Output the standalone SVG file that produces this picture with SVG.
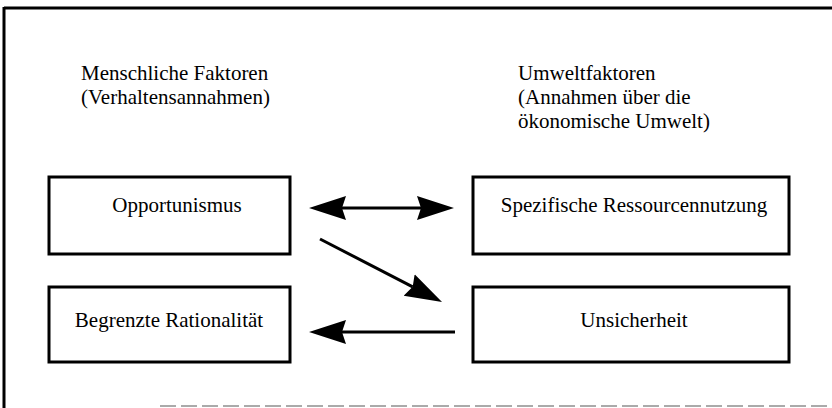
<svg xmlns="http://www.w3.org/2000/svg" width="832" height="408" viewBox="0 0 832 408">
<style>
text{font-family:"Liberation Serif","Times New Roman",serif;font-size:21px;fill:#000}
.box{fill:#fff;stroke:#000;stroke-width:3}
.c{text-anchor:middle}
.conn{stroke:#000;stroke-width:3;fill:none}
</style>
<defs>
<marker id="ah" viewBox="0 0 38 26" refX="4" refY="13" markerWidth="38" markerHeight="26" markerUnits="userSpaceOnUse" orient="auto-start-reverse">
<path d="M37,13 L0,1 L4,13 L0,25 Z" fill="#000"/>
</marker>
</defs>
<rect width="832" height="408" fill="#fff"/>
<g id="frame">
<line x1="4" y1="8" x2="832" y2="8" stroke="#000" stroke-width="3"/>
<line x1="4" y1="7" x2="4" y2="408" stroke="#000" stroke-width="3"/>
<line x1="160" y1="406" x2="832" y2="406" stroke="#aaa" stroke-width="2" stroke-dasharray="16 5"/>
</g>
<g id="heading-left">
<text x="81" y="80">Menschliche Faktoren</text>
<text x="81" y="104">(Verhaltensannahmen)</text>
</g>
<g id="heading-right">
<text x="518" y="80">Umweltfaktoren</text>
<text x="518" y="104">(Annahmen über die</text>
<text x="518" y="128">ökonomische Umwelt)</text>
</g>
<g id="opportunismus">
<rect class="box" x="49" y="177" width="241" height="77"/>
<text class="c" x="177" y="212">Opportunismus</text>
</g>
<g id="ressourcen">
<rect class="box" x="473" y="177" width="316" height="77"/>
<text class="c" x="634" y="212">Spezifische Ressourcennutzung</text>
</g>
<g id="rationalitaet">
<rect class="box" x="49" y="287" width="241" height="75"/>
<text class="c" x="169" y="327">Begrenzte Rationalität</text>
</g>
<g id="unsicherheit">
<rect class="box" x="473" y="287" width="316" height="75"/>
<text class="c" x="634" y="327">Unsicherheit</text>
</g>
<g id="connectors">
<line class="conn" x1="342" y1="208" x2="421" y2="208" marker-start="url(#ah)" marker-end="url(#ah)"/>
<line class="conn" x1="320" y1="239" x2="412.7" y2="286.8" marker-end="url(#ah)"/>
<line class="conn" x1="455" y1="332" x2="342" y2="332" marker-end="url(#ah)"/>
</g>
</svg>
